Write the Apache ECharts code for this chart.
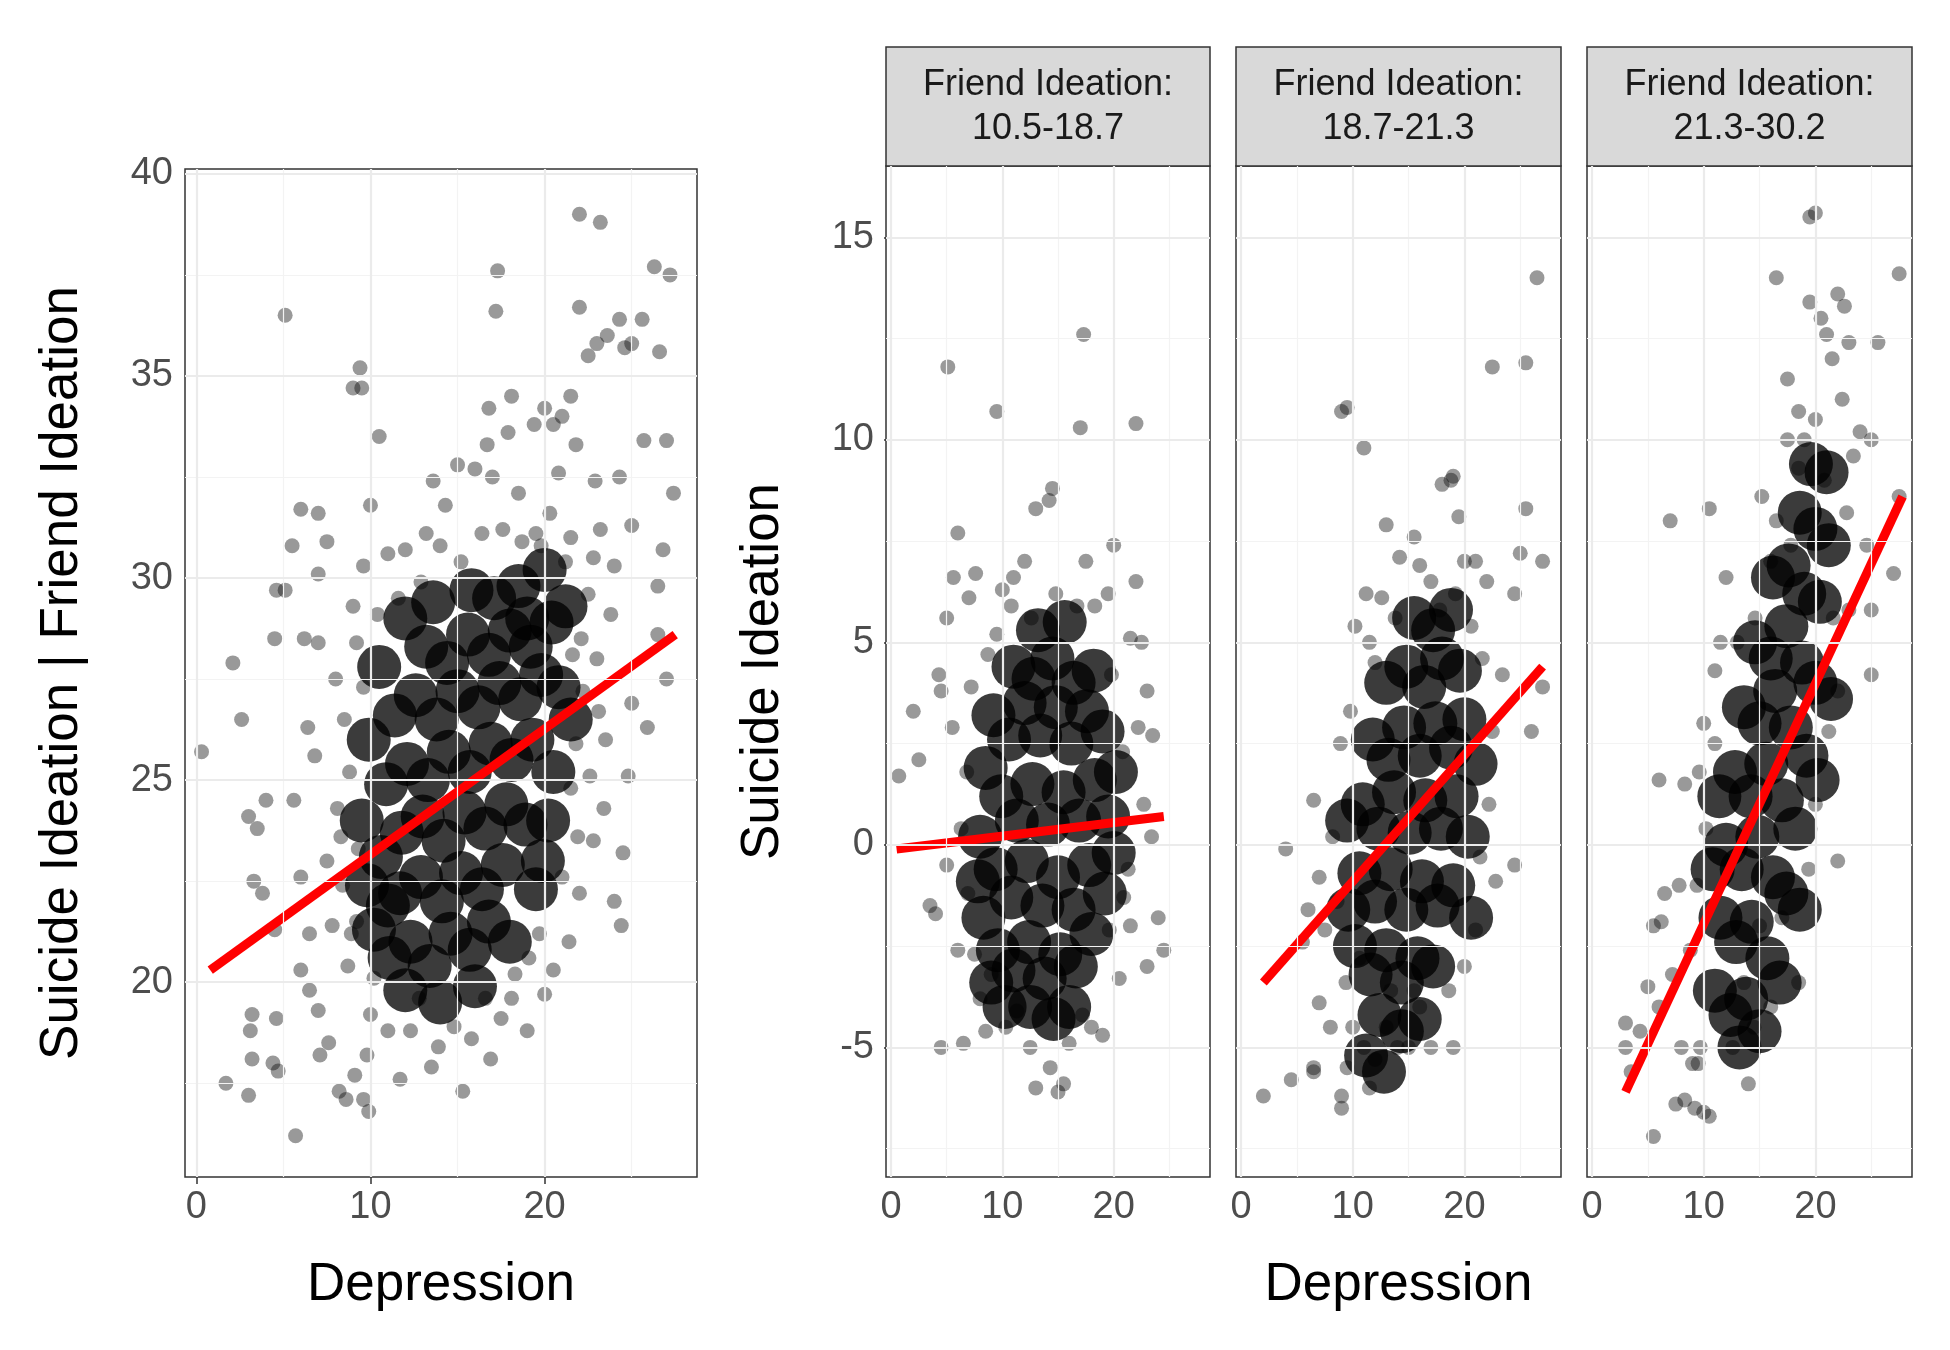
<!DOCTYPE html>
<html><head><meta charset="utf-8">
<script src="https://cdn.jsdelivr.net/npm/echarts@6/dist/echarts.min.js"></script>
<style>html,body{margin:0;padding:0;background:#fff}#c{width:1950px;height:1350px}</style>
</head><body><div id="c"></div>
<script>
const stripLabels = ["Friend Ideation:\n10.5-18.7","Friend Ideation:\n18.7-21.3","Friend Ideation:\n21.3-30.2"];
const xTicks = [0,10,20];
const y1Ticks = [20,25,30,35,40];
const y2Ticks = [-5,0,5,10,15];

const p1Outer = [[0.3,25.7],[2.1,27.9],[2.6,26.5],[3,24.1],[3.5,23.8],[4,24.5],[3.3,22.5],[3.8,22.2],[4.5,21.3],[4.5,28.5],[4.6,29.7],[5.1,29.7],[5.1,36.5],[5.5,30.8],[6,31.7],[7,31.6],[7.5,30.9],[7,30.1],[6.2,28.5],[7,28.4],[6.4,26.3],[6.8,25.6],[5.6,24.5],[6,22.6],[6.5,21.2],[6,20.3],[6.5,19.8],[7,19.3],[7.1,18.2],[7.6,18.5],[8.2,17.3],[8.6,17.1],[9.1,17.7],[9.6,17.1],[9.9,16.8],[5.7,16.2],[3,17.2],[3.2,18.1],[3.1,18.8],[3.2,19.2],[4.4,18],[4.7,17.8],[4.6,19.1],[1.7,17.5],[9,34.7],[9.4,35.2],[9.5,34.7],[10.5,33.5],[10,31.8],[9.6,30.3],[11,30.6],[12,30.7],[13.6,32.4],[14.3,31.8],[15,32.8],[16,32.7],[16.7,33.3],[17,32.5],[17.3,37.6],[17.2,36.6],[18.1,34.5],[16.8,34.2],[19.4,33.8],[20,34.2],[20.5,33.8],[21,34],[21.5,34.5],[21.8,33.3],[22,36.7],[22,39],[23.2,38.8],[22.5,35.5],[23,35.8],[23.6,36],[24.3,36.4],[24.6,35.7],[25,35.8],[25.6,36.4],[26.3,37.7],[26.6,35.6],[27.2,37.5],[25.7,33.4],[27,33.4],[27.4,32.1],[26.8,30.7],[26.5,29.8],[26.5,28.6],[27,27.5],[25.9,26.3],[24.5,23.2],[24,22],[24.4,21.4],[22,22.2],[21.4,21],[20,19.7],[19,18.8],[17.5,19.1],[15.3,17.3],[15.8,18.6],[13.5,17.9],[12.3,18.8],[11,18.8],[10,19.2],[8.7,20.4],[23,28],[24,30.3],[25,31.3],[24.3,32.5],[23.2,31.2],[22.8,30.5],[21.5,31],[20.3,31.6],[19.5,31.1],[18.5,32.1],[22.1,28.5],[23.5,26],[25,26.9],[24.8,25.1],[23.4,24.3],[22.8,23.5],[8,27.5],[8.5,26.5],[9.2,28.4],[9,29.3],[8.1,24.3],[7.5,23],[8.4,22.4],[9.2,21.5],[20.5,20.3],[19.7,21.2],[21.5,24.8],[22.2,27.2],[8.8,25.2],[9.3,23.3],[8.9,21.2],[10.2,20.1],[12.8,19.6],[14.8,18.9],[16.6,19.6],[18.3,20.2],[19.1,20.6],[21,22.6],[21.8,25.9],[21.6,28.1],[22.5,29.6],[21.2,30.4],[19.8,30.8],[18.7,30.9],[17.6,31.2],[16.4,31.1],[15.2,30.4],[14,30.8],[12.9,29.9],[11.6,29.5],[10.4,29.1],[9.6,27.3],[8.3,23.6],[7.8,21.4],[13.2,31.1],[17.9,33.6],[20.8,32.6],[22.9,32.4],[23.8,29.1],[23.1,26.7],[22.6,25.1],[21.9,23.6],[9.8,18.2],[11.7,17.6],[13.9,18.4],[16.9,18.1],[18.1,19.6]];
const p1Core = [[10.2,21.3],[11.1,20.6],[12.3,21.0],[13.4,20.4],[14.6,21.2],[15.7,20.8],[16.8,21.5],[11.7,22.2],[12.9,22.6],[14.1,22.0],[15.2,22.7],[16.4,22.3],[17.6,22.9],[10.6,23.1],[11.8,23.7],[13.0,24.1],[14.2,23.5],[15.4,24.2],[16.6,23.8],[17.8,24.4],[18.9,23.9],[10.9,24.9],[12.1,25.4],[13.3,25.0],[14.5,25.7],[15.7,25.2],[16.9,25.9],[18.1,25.5],[19.3,26.0],[11.4,26.6],[12.6,27.1],[13.8,26.5],[15.0,27.2],[16.2,26.8],[17.4,27.4],[18.6,27.0],[19.8,27.6],[13.2,28.3],[14.4,27.9],[15.6,28.6],[16.8,28.1],[18.0,28.7],[19.2,28.3],[20.4,28.9],[17.1,29.5],[18.5,29.8],[20.0,30.2],[9.8,22.4],[9.5,24.0],[9.9,26.0],[20.5,25.2],[20.8,27.3],[12.0,19.8],[14.0,19.5],[16.0,19.9],[18.0,21.0],[19.5,22.3],[20.2,24.0],[21.2,29.3],[21.5,26.5],[10.5,27.8],[12.0,29.0],[13.6,29.4],[15.8,29.7],[19.0,29.0],[11.0,21.9],[19.9,23.0]];
const p1Line = [[0.8,20.3],[27.5,28.6]];

const p2Outer = [[0.7,1.7],[2,3.3],[2.5,2.1],[3.5,-1.5],[4,-1.7],[4.5,-5],[5.1,11.8],[5,5.6],[5.6,6.6],[6,7.7],[6.5,-4.9],[7,6.1],[7.6,6.7],[8,-3.8],[8.5,-4.6],[9.5,10.7],[10,6.3],[11,6.6],[12,7],[12.5,-5],[13,8.3],[14.5,8.8],[14.2,8.5],[15.5,-5.9],[15,-6.1],[16,-4.9],[17.3,12.6],[17,10.3],[17.5,7],[18,-4.5],[19,-4.7],[20,7.4],[22,10.4],[21.5,5.1],[22.5,5],[23.5,2.7],[24,-1.8],[24.5,-2.6],[23,-3],[21.5,-2],[22,6.5],[19.5,6.2],[18.3,5.9],[8.7,4.7],[9.5,5.2],[9,-3.2],[14.3,-5.5],[13,-6],[10.3,-4.5],[6,-2.6],[5,-0.5],[6.8,1.8],[4.3,4.2],[4.5,3.8],[20.5,-3.3],[22.7,1],[23,3.8],[19.8,4.2],[5.5,2.9],[6.3,0.4],[6.9,-1.2],[7.2,3.9],[7.5,-2.7],[20.8,2.3],[21.3,-0.6],[22.2,2.9],[23.4,0.2],[16.7,5.9],[14.8,6.2],[12.6,5.6],[10.8,5.9],[11.3,-4.1],[17.2,-4.2],[19.6,-2.1],[20.9,-1.3]];
const p2Core = [[8.3,-1.8],[9.6,-2.6],[11.0,-3.1],[12.4,-2.4],[13.8,-3.3],[15.2,-2.7],[16.6,-3.0],[18.0,-2.2],[8.0,0.2],[9.4,-0.6],[10.8,-1.3],[12.2,-0.4],[13.6,-1.5],[15.0,-0.8],[16.4,-1.6],[17.8,-0.5],[19.2,-1.2],[8.5,1.9],[9.9,1.2],[11.3,0.6],[12.7,1.5],[14.1,0.5],[15.5,1.3],[16.9,0.6],[18.3,1.6],[19.5,0.7],[9.2,3.2],[10.6,2.6],[12.0,3.5],[13.4,2.7],[14.8,3.4],[16.2,2.5],[17.6,3.3],[19.0,2.8],[11.0,4.4],[12.8,4.1],[14.5,4.6],[16.4,4.0],[18.2,4.3],[12.5,-4.0],[14.6,-4.3],[16.0,-4.0],[10.2,-4.0],[7.8,-0.9],[20.0,-0.2],[20.2,1.8],[9.0,-3.4],[13.2,5.3],[15.6,5.5]];
const p2Line = [[0.5,-0.1],[24.5,0.7]];

const p3Outer = [[2,-6.2],[4.5,-5.8],[6.5,-5.6],[6.5,-5.5],[9,-6.5],[9,-6.2],[9.5,-5.5],[4,-0.1],[6.5,1.1],[7,-0.8],[6,-1.6],[5.5,-2.4],[9,10.7],[9.5,10.8],[11,9.8],[11.5,5],[12,4.5],[13,7.9],[14.2,7.1],[15.5,7.6],[16,6.9],[17,6.5],[18,8.9],[18.8,9],[19,9.1],[19.5,8.1],[20,7],[21,7],[22,6.5],[22.5,11.8],[25.5,11.9],[26.5,14],[25.5,8.3],[25,7.2],[27,7],[27,3.9],[26,2.8],[24.5,-0.5],[22.5,2.8],[21,-2.1],[20,-3],[19,-5],[17,-5],[16,-4],[15,-5],[13,-4.5],[11,-5],[10,-4.5],[8,-4.5],[7,-3.9],[11.5,-6],[12,-5.3],[24.5,6.2],[20.6,5.4],[14,-5],[15.5,-3.6],[7.5,-2.1],[8.2,0.2],[8.6,-1.4],[8.9,2.5],[9.8,3.3],[10.2,5.4],[11.2,6.2],[12.6,6.1],[13.8,5.6],[17.8,5.8],[19.2,6.2],[21.6,4.6],[22.2,1.0],[23.4,4.2],[22.8,-0.9],[21.4,-0.3],[18.6,-3.6],[13.4,-3.6],[9.4,-3.4],[10.6,-2.8]];
const p3Core = [[10.2,-2.5],[11.6,-3.2],[13.0,-2.6],[14.4,-3.4],[15.8,-2.8],[17.2,-3.0],[10.6,-0.7],[12.0,-1.4],[13.4,-0.6],[14.8,-1.6],[16.2,-0.9],[17.6,-1.5],[19.0,-1.0],[10.9,1.0],[12.3,0.4],[13.7,1.3],[15.1,0.3],[16.5,1.1],[17.9,0.4],[19.3,1.2],[20.3,0.2],[11.8,2.6],[13.2,2.1],[14.6,2.9],[16.0,2.2],[17.4,3.0],[18.8,2.4],[20.0,3.1],[13.0,4.0],[14.8,4.4],[16.4,3.9],[18.0,4.6],[19.6,4.3],[15.5,5.6],[17.2,5.3],[18.8,5.8],[12.4,-4.2],[14.4,-4.6],[16.0,-4.3],[9.6,-1.6],[9.5,0.6],[20.6,-1.8],[21.0,2.0],[11.2,-5.2],[12.8,-5.6]];
const p3Line = [[2,-3.4],[27,4.4]];

const p4Outer = [[3,-4.4],[3,-5],[3.5,-5.6],[4.3,-4.6],[5.5,-7.2],[6,-4],[7.5,-6.4],[8,-5],[8.3,-6.3],[9,-5.4],[9.5,-5.4],[9.2,-6.5],[10,-6.6],[10.5,-6.7],[9.7,-5],[5,-3.5],[5.5,-2],[6.2,-1.9],[6.5,-1.2],[6,1.6],[7,8],[8.3,1.5],[7.8,-1],[10.5,8.3],[11,4.3],[11.5,5],[11,2.5],[10,3],[12,6.6],[14,-5.9],[16.5,14],[17.5,11.5],[19.5,15.5],[20,15.6],[19.5,13.4],[20.5,13],[21,12.6],[22,13.6],[22.6,13.3],[23,12.4],[21.5,12],[24,10.2],[25,10],[27.5,14.1],[27.5,8.6],[27,6.7],[25,5.8],[25,4.2],[23,5.8],[22,3.8],[22,-0.4],[20,1],[18.5,-3.4],[16,-4],[15,-2],[14.5,-4.5],[17.5,10],[18.5,10.7],[19,10],[20,10.5],[17.8,7.4],[18.5,9.3],[16.5,8],[16,7],[8.8,-2.6],[9.4,-1.0],[10.2,0.4],[9.6,1.8],[7.2,-3.2],[12.6,-5.0],[13.6,-3.4],[17.0,-1.8],[19.4,-0.6],[21.2,2.8],[21.6,5.6],[22.8,8.2],[23.4,9.6],[24.6,7.4],[25.6,12.4],[22.4,11.0],[20.8,9.0],[14.6,5.6],[15.2,8.6],[13.0,5.0]];
const p4Core = [[11.0,-3.6],[12.4,-4.2],[13.8,-3.8],[11.5,-1.8],[12.9,-2.4],[14.3,-1.9],[15.7,-2.8],[12.0,0.0],[13.4,-0.6],[14.8,0.2],[16.2,-0.8],[17.4,-1.2],[12.8,1.8],[14.2,1.2],[15.6,2.0],[17.0,1.1],[18.2,0.4],[13.6,3.4],[15.0,3.0],[16.4,3.8],[17.8,2.9],[19.2,2.2],[14.6,5.0],[16.0,4.6],[17.4,5.4],[18.8,4.5],[20.0,4.0],[16.2,6.6],[17.6,6.9],[19.0,6.2],[20.4,6.0],[18.6,8.2],[20.0,7.8],[21.2,7.4],[19.6,9.4],[21.0,9.2],[13.2,-5.0],[15.0,-4.6],[16.8,-3.4],[11.4,1.2],[10.8,-0.6],[18.6,-1.6],[20.2,1.6],[21.4,3.6]];
const p4Line = [[3,-6.1],[27.8,8.6]];

const panels = [
  {outer:p1Outer, core:p1Core, line:p1Line, x:[-0.65,28.75], y:[15.18,40.12], yt:y1Ticks, ymajor:[20,25,30,35,40], yminor:[17.5,22.5,27.5,32.5,37.5], left:185, w:512, top:169, h:1008},
  {outer:p2Outer, core:p2Core, line:p2Line, x:[-0.45,28.65], y:[-8.2,16.76], yt:y2Ticks, ymajor:[-5,0,5,10,15], yminor:[-7.5,-2.5,2.5,7.5,12.5], left:886, w:324, top:166, h:1011},
  {outer:p3Outer, core:p3Core, line:p3Line, x:[-0.45,28.65], y:[-8.2,16.76], yt:null, ymajor:[-5,0,5,10,15], yminor:[-7.5,-2.5,2.5,7.5,12.5], left:1236, w:325, top:166, h:1011},
  {outer:p4Outer, core:p4Core, line:p4Line, x:[-0.45,28.65], y:[-8.2,16.76], yt:null, ymajor:[-5,0,5,10,15], yminor:[-7.5,-2.5,2.5,7.5,12.5], left:1587, w:325, top:166, h:1011}
];
const xMajor=[0,10,20], xMinor=[5,15,25];
const FONT="Liberation Sans";
const grid=[],xAxis=[],yAxis=[],series=[],graphic=[];
panels.forEach((p,i)=>{
  grid.push({left:p.left,top:p.top,width:p.w,height:p.h,show:true,borderColor:'#333333',borderWidth:1.5,backgroundColor:'#fff'});
  xAxis.push({gridIndex:i,type:'value',min:p.x[0],max:p.x[1],splitLine:{show:false},axisLine:{show:false},
    axisTick:{show:true,customValues:xTicks,length:7,lineStyle:{color:'#333',width:1.5}},
    axisLabel:{customValues:xTicks,fontSize:38,color:'#4d4d4d',fontFamily:FONT,margin:12},
    name:(i===0||i===2)?'Depression':'',nameLocation:'middle',nameGap:82,nameTextStyle:{fontSize:53,color:'#000',fontFamily:FONT}});
  yAxis.push({gridIndex:i,type:'value',min:p.y[0],max:p.y[1],splitLine:{show:false},axisLine:{show:false},
    axisTick:{show:!!p.yt,customValues:p.yt||[],length:7,lineStyle:{color:'#333',width:1.5}},
    axisLabel:{show:!!p.yt,customValues:p.yt||[],fontSize:38,color:'#4d4d4d',fontFamily:FONT,margin:12},
    name:i===0?'Suicide Ideation | Friend Ideation':(i===1?'Suicide Ideation':''),nameLocation:'middle',nameGap:96,
    nameTextStyle:{fontSize:53,color:'#000',fontFamily:FONT}});
  const ml=[];
  xMinor.forEach(v=>ml.push({xAxis:v,lineStyle:{color:'#f3f3f3',width:1.2,type:'solid'}}));
  p.yminor.forEach(v=>ml.push({yAxis:v,lineStyle:{color:'#f3f3f3',width:1.2,type:'solid'}}));
  xMajor.forEach(v=>ml.push({xAxis:v,lineStyle:{color:'#ebebeb',width:2.2,type:'solid'}}));
  p.ymajor.forEach(v=>ml.push({yAxis:v,lineStyle:{color:'#ebebeb',width:2.2,type:'solid'}}));
  series.push({type:'scatter',xAxisIndex:i,yAxisIndex:i,data:[],silent:true,z:1,
    markLine:{silent:true,symbol:['none','none'],label:{show:false},animation:false,data:ml}});
  series.push({type:'scatter',xAxisIndex:i,yAxisIndex:i,data:p.core,symbolSize:44,z:2,itemStyle:{color:'rgba(0,0,0,0.96)'}});
  series.push({type:'scatter',xAxisIndex:i,yAxisIndex:i,data:p.outer,symbolSize:15,z:3,itemStyle:{color:'rgba(0,0,0,0.5)'}});
  series.push({type:'line',xAxisIndex:i,yAxisIndex:i,data:p.line,symbol:'none',z:4,lineStyle:{color:'#ff0000',width:9}});
  if(i>0){
    graphic.push({type:'rect',shape:{x:p.left,y:47,width:p.w,height:119},style:{fill:'#d9d9d9',stroke:'#333333',lineWidth:1.5}});
    graphic.push({type:'text',x:p.left+p.w/2,y:107,style:{text:stripLabels[i-1],fontSize:36,fontFamily:FONT,fill:'#1a1a1a',align:'center',verticalAlign:'middle',lineHeight:44}});
  }
});
const chart=echarts.init(document.getElementById('c'));
chart.setOption({animation:false,backgroundColor:'#fff',grid,xAxis,yAxis,series,graphic});
</script></body></html>
